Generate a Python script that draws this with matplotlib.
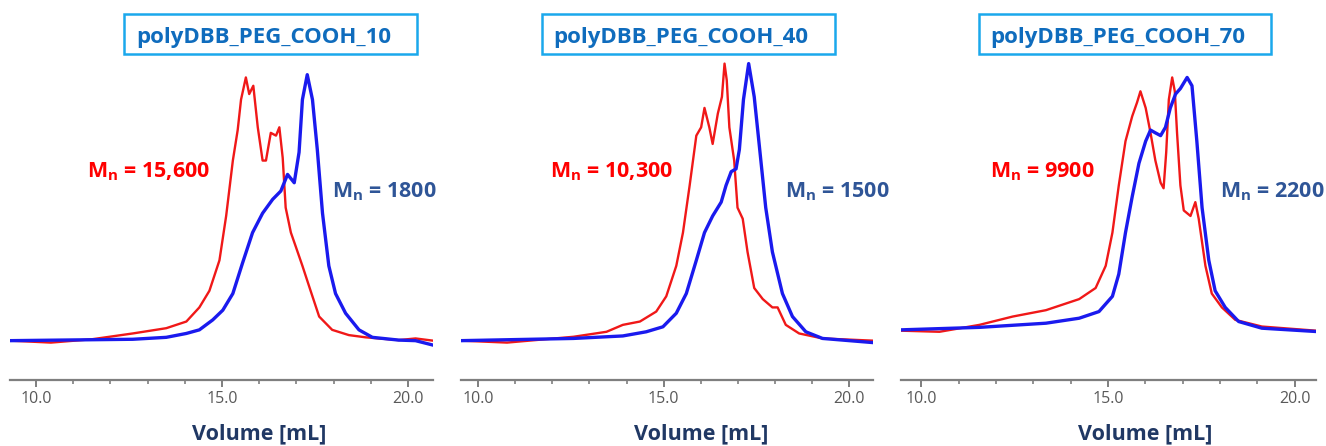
import numpy as np
import matplotlib
matplotlib.use("Agg")
import matplotlib.pyplot as plt
from matplotlib.patches import Rectangle
from matplotlib.ticker import MultipleLocator

plt.rcParams['font.family'] = ['Open Sans', 'DejaVu Sans']
plt.rcParams['mathtext.fontset'] = 'custom'
plt.rcParams['mathtext.rm'] = 'Open Sans'
plt.rcParams['mathtext.bf'] = 'Open Sans:bold'

# sample names and number-average molar masses
samples = ['polyDBB_PEG_COOH_10', 'polyDBB_PEG_COOH_40', 'polyDBB_PEG_COOH_70']
mn_red = ['15,600', '10,300', '9900']
mn_blue = ['1800', '1500', '2200']

# GPC traces, volume in mL, normalised detector response
red_x_10 = [9.30, 10.4, 11.5, 12.6, 13.5, 14.04, 14.39, 14.66, 14.93, 15.11, 15.29, 15.42,
            15.51, 15.64, 15.73, 15.84, 15.96, 16.09, 16.18, 16.31, 16.45, 16.54, 16.63,
            16.71, 16.85, 16.98, 17.16, 17.38, 17.61, 17.96, 18.41, 18.86, 19.75, 20.2, 20.67]
red_y_10 = [0.0, -0.007, 0.005, 0.026, 0.045, 0.069, 0.12, 0.18, 0.29, 0.45, 0.65, 0.76,
            0.87, 0.95, 0.89, 0.92, 0.77, 0.65, 0.65, 0.75, 0.74, 0.77, 0.66,
            0.48, 0.39, 0.34, 0.27, 0.18, 0.087, 0.039, 0.02, 0.012, 0.002, 0.008, 0.0]
blue_x_10 = [9.30, 12.6, 13.5, 14.04, 14.39, 14.75, 15.02, 15.29, 15.55, 15.82, 16.09, 16.36,
             16.58, 16.76, 16.94, 17.07, 17.16, 17.29, 17.43, 17.56, 17.70, 17.87, 18.05,
             18.32, 18.68, 19.04, 19.75, 20.2, 20.67]
blue_y_10 = [0.0, 0.005, 0.012, 0.026, 0.039, 0.075, 0.11, 0.17, 0.28, 0.39, 0.46, 0.51,
             0.54, 0.60, 0.57, 0.68, 0.87, 0.96, 0.87, 0.69, 0.46, 0.27, 0.17,
             0.099, 0.039, 0.012, 0.002, 0.0, -0.016]

red_x_40 = [9.54, 10.78, 12.57, 13.46, 13.9, 14.36, 14.8, 15.07, 15.34, 15.52, 15.7, 15.88,
            16.01, 16.10, 16.23, 16.32, 16.46, 16.57, 16.64, 16.70, 16.77, 16.90, 16.99,
            17.13, 17.26, 17.44, 17.67, 17.93, 18.07, 18.29, 18.65, 19.28, 20.64]
red_y_40 = [0.0, -0.007, 0.014, 0.032, 0.057, 0.069, 0.105, 0.16, 0.27, 0.39, 0.56, 0.74,
            0.77, 0.84, 0.77, 0.71, 0.82, 0.88, 1.0, 0.94, 0.77, 0.65, 0.48,
            0.44, 0.32, 0.19, 0.15, 0.12, 0.12, 0.057, 0.026, 0.008, 0.0]
blue_x_40 = [9.54, 12.57, 13.9, 14.53, 14.98, 15.34, 15.61, 15.88, 16.10, 16.32, 16.55, 16.68,
             16.82, 16.95, 17.04, 17.15, 17.29, 17.44, 17.58, 17.75, 17.93, 18.2, 18.47,
             18.83, 19.28, 20.64]
blue_y_40 = [0.0, 0.008, 0.017, 0.032, 0.05, 0.099, 0.17, 0.29, 0.39, 0.45, 0.50, 0.56,
             0.61, 0.62, 0.69, 0.87, 1.0, 0.88, 0.70, 0.48, 0.32, 0.17, 0.087,
             0.032, 0.008, -0.007]

red_x_70 = [9.46, 10.49, 11.56, 12.45, 13.34, 14.23, 14.67, 14.94, 15.12, 15.29, 15.47, 15.65,
            15.78, 15.87, 16.01, 16.14, 16.27, 16.41, 16.49, 16.56, 16.63, 16.72, 16.79,
            16.85, 16.94, 17.03, 17.21, 17.34, 17.43, 17.61, 17.78, 18.05, 18.41, 19.12, 20.57]
red_y_70 = [0.036, 0.032, 0.057, 0.087, 0.11, 0.15, 0.19, 0.27, 0.39, 0.56, 0.72, 0.81,
            0.86, 0.90, 0.84, 0.75, 0.65, 0.57, 0.55, 0.68, 0.87, 0.95, 0.90,
            0.75, 0.56, 0.47, 0.45, 0.50, 0.44, 0.27, 0.17, 0.12, 0.075, 0.051, 0.036]
blue_x_70 = [9.46, 11.56, 13.34, 14.23, 14.76, 15.12, 15.29, 15.47, 15.65, 15.83, 16.01, 16.14,
             16.27, 16.41, 16.54, 16.67, 16.81, 16.94, 17.12, 17.25, 17.38, 17.52, 17.70,
             17.87, 18.14, 18.5, 19.12, 20.57]
blue_y_70 = [0.039, 0.048, 0.063, 0.081, 0.105, 0.16, 0.24, 0.39, 0.52, 0.64, 0.72, 0.76,
             0.75, 0.74, 0.77, 0.84, 0.89, 0.91, 0.95, 0.92, 0.72, 0.48, 0.29,
             0.18, 0.12, 0.069, 0.045, 0.033]

reds = [(red_x_10, red_y_10), (red_x_40, red_y_40), (red_x_70, red_y_70)]
blues = [(blue_x_10, blue_y_10), (blue_x_40, blue_y_40), (blue_x_70, blue_y_70)]

W, H = 1326, 446
fig = plt.figure(figsize=(W / 100, H / 100), dpi=100)

# panel layout in pixels: left edge, right edge, x limits
px_left = [10, 461, 901]
px_right = [433, 873, 1316]
xlims = [(9.30, 20.67), (9.54, 20.64), (9.46, 20.57)]
box_x = [(124, 417), (542, 835), (979, 1271)]
title_x = [136, 553, 990]
red_lab_x = [87, 550, 990]
blue_lab_x = [332, 785, 1220]

def fx(px):
    return px / W

def fy(py):
    return 1 - py / H

for i in range(3):
    ax = fig.add_axes([fx(px_left[i]), fy(380), fx(px_right[i] - px_left[i]), (380 - 55) / H])
    ax.plot(reds[i][0], reds[i][1], color='#f01818', lw=1.7)
    ax.plot(blues[i][0], blues[i][1], color='#1a1aee', lw=2.4)
    ax.set_xlim(*xlims[i])
    ax.set_ylim(-0.142, 1.031)
    for s in ['top', 'left', 'right']:
        ax.spines[s].set_visible(False)
    ax.spines['bottom'].set_color('#7f7f7f')
    ax.spines['bottom'].set_linewidth(1.6)
    ax.set_yticks([])
    ax.xaxis.set_major_locator(MultipleLocator(5))
    ax.xaxis.set_minor_locator(MultipleLocator(1))
    ax.xaxis.set_major_formatter(lambda v, p: f'{v:.1f}')
    ax.tick_params(axis='x', which='major', length=5, width=1.4, color='#7f7f7f',
                   labelsize=11.5, labelcolor='#595959', pad=3)
    ax.tick_params(axis='x', which='minor', length=3, width=1.2, color='#7f7f7f')
    ax.patch.set_alpha(0)

    # x label centred on 16 mL
    xc = px_left[i] + (16.0 - xlims[i][0]) / (xlims[i][1] - xlims[i][0]) * (px_right[i] - px_left[i])
    fig.text(fx(xc), fy(439), 'Volume [mL]', ha='center', va='baseline',
             fontsize=15.5, fontweight='bold', color='#203864')

    # sample title with box
    bx0, bx1 = box_x[i]
    fig.patches.append(Rectangle((fx(bx0), fy(54)), fx(bx1 - bx0), 40 / H,
                                 transform=fig.transFigure, fill=False,
                                 edgecolor='#1aa8ec', linewidth=1.8))
    fig.text(fx(title_x[i]), fy(43), samples[i], ha='left', va='baseline',
             fontsize=16, fontweight='bold', color='#0f6cbd')

    fig.text(fx(red_lab_x[i]), fy(177), r'$\mathbf{M_n}$ = ' + mn_red[i], ha='left',
             va='baseline', fontsize=15.5, fontweight='bold', color='#ff0000')
    fig.text(fx(blue_lab_x[i]), fy(197), r'$\mathbf{M_n}$ = ' + mn_blue[i], ha='left',
             va='baseline', fontsize=15.5, fontweight='bold', color='#2f5597')

fig.savefig('out.png', dpi=100, facecolor='white')
